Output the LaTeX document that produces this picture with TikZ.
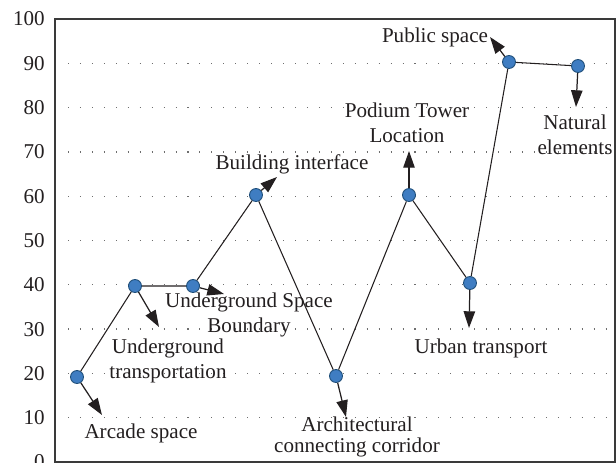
\documentclass[tikz,border=0pt]{standalone}
\usepackage{fontspec}
\setmainfont{Liberation Serif}
\usepackage{xcolor}
\usepackage{tikz}
\usetikzlibrary{arrows.meta}
\definecolor{ink}{HTML}{231F20}
\definecolor{frame}{HTML}{3A3A3A}
\definecolor{dotfill}{HTML}{3F7DC2}
\definecolor{dotedge}{HTML}{1F4E79}
\definecolor{gridc}{HTML}{6E6E6E}
\tikzset{
  axis/.style={draw=frame, line width=1.1pt},
  grid/.style={draw=gridc, line width=0.7pt, dash pattern=on 0.6pt off 6.2pt},
  link/.style={draw=ink, line width=0.6pt},
  point/.style={circle, fill=dotfill, draw=dotedge, line width=0.5pt, minimum size=0.26cm, inner sep=0pt},
  pointer/.style={draw=ink, line width=0.7pt, -{Triangle[length=9.5pt,width=6.5pt]}},
  lab/.style={text=ink, font=\fontsize{12}{14}\selectfont, inner sep=0pt, align=center},
  tick/.style={text=ink, font=\fontsize{12}{14}\selectfont, anchor=east, inner sep=0pt},
}
\begin{document}
\begin{tikzpicture}[x=0.02cm,y=-0.02cm]
  \useasboundingbox (0,0) rectangle (616,463);
  % grid and axis
  \foreach \v in {10,20,...,90}
    \draw[grid] (68,{462-4.43*\v}) -- (612,{462-4.43*\v});
  \foreach \v in {0,10,...,100}
    \node[tick] at (45,{462-4.43*\v}) {\v};
  \draw[axis] (55,19) rectangle (615,462);
  % points
  \node[point] (p1) at (77,377) {};
  \node[point] (p2) at (135,286) {};
  \node[point] (p3) at (193,286) {};
  \node[point] (p4) at (256,195) {};
  \node[point] (p5) at (336,376) {};
  \node[point] (p6) at (409,195) {};
  \node[point] (p7) at (470,283) {};
  \node[point] (p8) at (509,62) {};
  \node[point] (p9) at (578,66) {};
  \draw[link] (p1) -- (p2) -- (p3) -- (p4) -- (p5) -- (p6) -- (p7) -- (p8) -- (p9);
  % arrow ends
  \coordinate (a1) at (102,415);
  \coordinate (a2) at (159,327);
  \coordinate (a3) at (224,294);
  \coordinate (a4) at (277,177);
  \coordinate (a5) at (346,417);
  \coordinate (a6) at (409,151);
  \coordinate (a7) at (469,328);
  \coordinate (a8) at (490,37);
  \coordinate (a9) at (576,107);
  \foreach \i in {1,...,9}
    \draw[pointer] (p\i) -- (a\i);
  % labels
  \node[lab] (arcade) at (141,433) {Arcade space};
  \node[lab] (ugtrans) at (168,361) {Underground\\transportation};
  \node[lab] (ugbound) at (249,315) {Underground Space\\Boundary};
  \node[lab] (interface) at (292,164) {Building interface};
  \node[lab, font=\fontsize{12}{11.5}\selectfont] (corridor) at (357,437) {Architectural\\connecting corridor};
  \node[lab] (podium) at (407,123) {Podium Tower\\Location};
  \node[lab] (urban) at (481,348) {Urban transport};
  \node[lab] (public) at (435,37) {Public space};
  \node[lab] (natural) at (575,135) {Natural\\elements};
\end{tikzpicture}
\end{document}
